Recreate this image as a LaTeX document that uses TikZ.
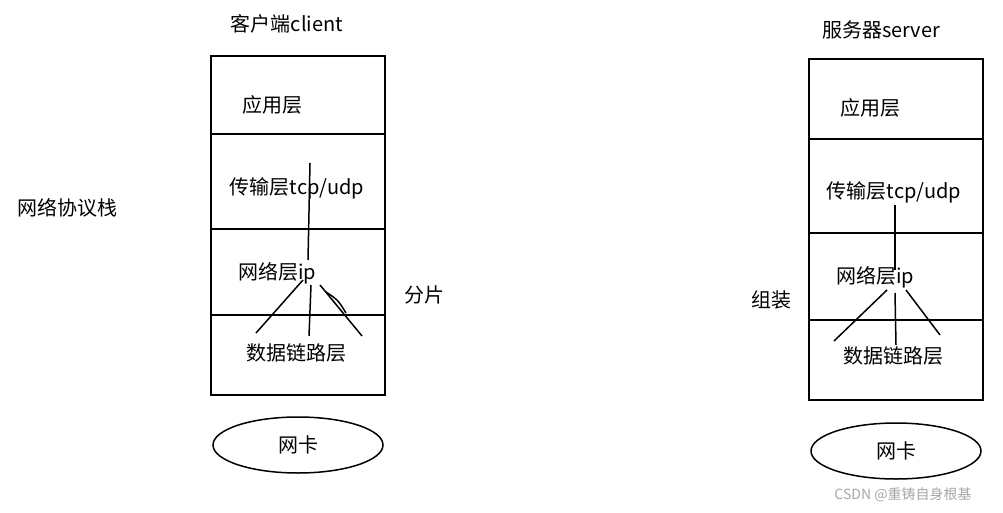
\documentclass[tikz,border=0pt]{standalone}
\usepackage{fontspec}
\usetikzlibrary{shapes.geometric}
\setmainfont{Noto Sans CJK SC}
\begin{document}
\begin{tikzpicture}[x=1pt,y=-1pt,
  lbl/.style={inner sep=0pt,font=\fontsize{20}{24}\selectfont},
  box/.style={draw,line width=1.5pt},
  ln/.style={line width=1.5pt}]
\useasboundingbox (0,0) rectangle (1003,513);
% left stack
\draw[box] (211,56) rectangle (385,395);
\draw[ln] (211,134) -- (385,134) (211,229) -- (385,229) (211,315) -- (385,315);
\node[lbl] (lc) at (287,24) {客户端client};
\node[lbl] (la) at (272,105) {应用层};
\node[lbl] (lt) at (297,188) {传输层tcp/udp};
\node[lbl] (ln) at (277,273) {网络层ip};
\node[lbl] (ld) at (296,353) {数据链路层};
\node[draw,ellipse,line width=1.5pt,minimum width=170pt,minimum height=56pt,lbl] (le) at (298,445) {网卡};
\coordinate (l1) at (310,163); \coordinate (l2) at (308,260);
\draw[ln] (l1) -- (l2);
\coordinate (l3) at (303,280); \coordinate (l4) at (256,333);
\coordinate (l5) at (311,285); \coordinate (l6) at (309,336);
\coordinate (l7) at (320,285); \coordinate (l8) at (362,336);
\draw[ln] (l3) -- (l4) (l5) -- (l6) (l7) -- (l8);
\draw[ln] (326,292) .. controls (338,300) .. (346,313);
\node[lbl] (fp) at (424,295) {分片};
\node[lbl] (st) at (67,208) {网络协议栈};
% right stack
\draw[box] (809,59) rectangle (983,400);
\draw[ln] (809,139) -- (983,139) (809,233) -- (983,233) (809,320) -- (983,320);
\node[lbl] (rc) at (881,30) {服务器server};
\node[lbl] (ra) at (870,108) {应用层};
\node[lbl] (rt) at (894,192) {传输层tcp/udp};
\node[lbl] (rn) at (875,277) {网络层ip};
\node[lbl] (rd) at (893,356) {数据链路层};
\node[draw,ellipse,line width=1.5pt,minimum width=170pt,minimum height=56pt,lbl] (re) at (896,451) {网卡};
\coordinate (r1) at (895,205); \coordinate (r2) at (895,270);
\draw[ln] (r1) -- (r2);
\coordinate (r3) at (887,290); \coordinate (r4) at (834,341);
\coordinate (r5) at (895,293); \coordinate (r6) at (896,345);
\coordinate (r7) at (906,290); \coordinate (r8) at (940,335);
\draw[ln] (r3) -- (r4) (r5) -- (r6) (r7) -- (r8);
\node[lbl] (zz) at (771,300) {组装};
\node[inner sep=0pt,font=\fontsize{14}{16}\selectfont,text=gray!70] (wm) at (903,495) {CSDN @重铸自身根基};
\end{tikzpicture}
\end{document}
